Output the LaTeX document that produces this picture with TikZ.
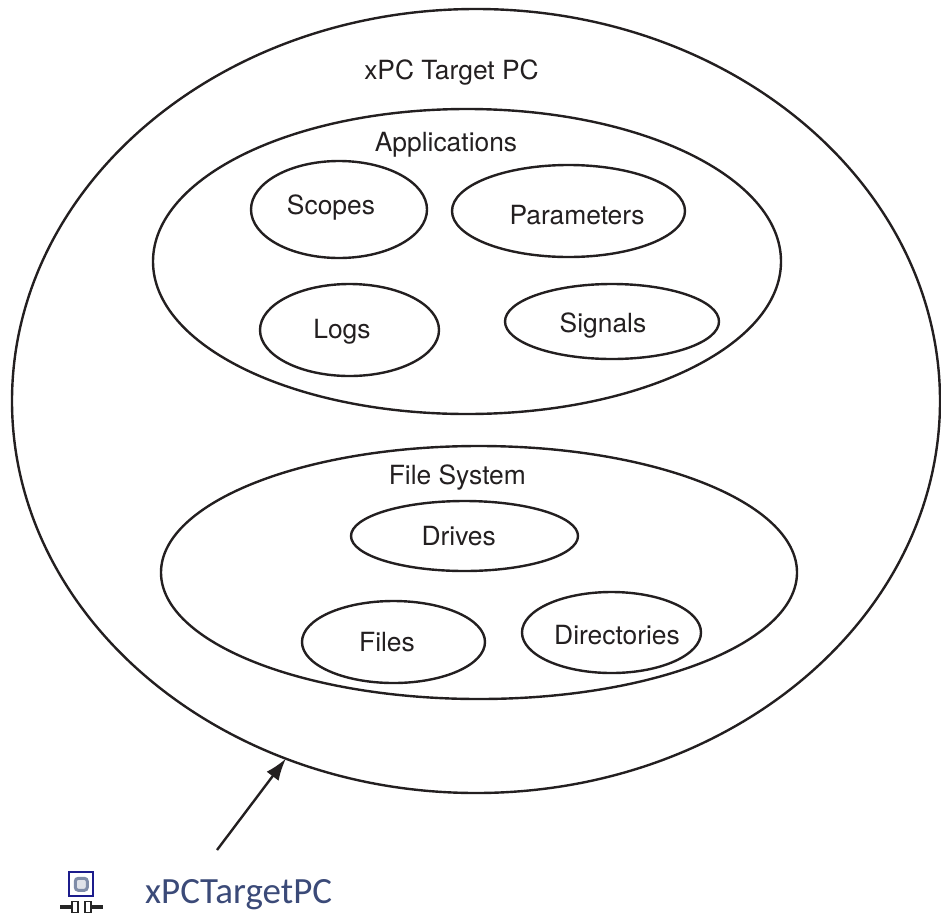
\documentclass[tikz,border=0pt]{standalone}
\usepackage{fontspec}
\setmainfont{TeX Gyre Heros}
\newfontfamily\uifont{Carlito}
\usetikzlibrary{shapes.geometric,arrows.meta}
\definecolor{ink}{HTML}{231F20}
\definecolor{uiblue}{HTML}{3B4A78}
\definecolor{navy}{HTML}{1C1C8C}
\definecolor{ring}{HTML}{7F8CA8}
\tikzset{
  x=1pt,y=-1pt,
  oval/.style={ellipse,draw=ink,line width=2.4pt,inner sep=0pt,outer sep=0pt},
  lbl/.style={font=\fontsize{26.4}{30}\selectfont,text=ink,inner sep=0pt,anchor=base},
  link/.style={draw=ink,line width=2.4pt,-{Latex[length=22pt,width=15pt]}}
}
\begin{document}
\begin{tikzpicture}
\useasboundingbox (0,0) rectangle (941,913);
\node[oval,minimum width=928pt,minimum height=784pt] (outer) at (476,401) {};
\node[oval,minimum width=628pt,minimum height=305pt] (apps) at (467,261.5) {};
\node[oval,minimum width=176pt,minimum height=97pt] (scopes) at (339,209.5) {};
\node[oval,minimum width=233pt,minimum height=92pt] (params) at (568.5,211) {};
\node[oval,minimum width=179pt,minimum height=92pt] (logs) at (349.5,330) {};
\node[oval,minimum width=214pt,minimum height=75pt] (signals) at (612,321.5) {};
\node[oval,minimum width=636pt,minimum height=253pt] (fs) at (479,572.5) {};
\node[oval,minimum width=227pt,minimum height=70pt] (drives) at (464.5,536) {};
\node[oval,minimum width=183pt,minimum height=82pt] (files) at (393.5,642) {};
\node[oval,minimum width=179pt,minimum height=81pt] (dirs) at (611.5,632.5) {};
\node[lbl] (t0) at (451.5,79) {xPC Target PC};
\node[lbl] (t1) at (446,151) {Applications};
\node[lbl] (t2) at (331,214) {Scopes};
\node[lbl] (t3) at (577,224.5) {Parameters};
\node[lbl] (t4) at (342,338.5) {Logs};
\node[lbl] (t5) at (603,332.7) {Signals};
\node[lbl] (t6) at (457.3,484) {File System};
\node[lbl] (t7) at (458.7,545.3) {Drives};
\node[lbl] (t8) at (387,651.7) {Files};
\node[lbl] (t9) at (617,644.3) {Directories};
\coordinate (start) at (217,850);
\draw[link] (start) -- (outer.242.3);
\node[font=\uifont\fontsize{37}{40}\selectfont,text=uiblue,inner sep=0pt,anchor=base west] (name) at (145,903) {xPCTargetPC};
\node[draw=navy,line width=2pt,minimum size=24pt,inner sep=0pt,fill=white] (icon) at (81.3,884.3) {};
\node[draw=ring,line width=3pt,minimum size=12pt,inner sep=0pt,rounded corners=3pt,fill=ring!25] (core) at (icon) {};
\coordinate (pl) at (60,907);
\coordinate (pr) at (103,907);
\draw[line width=3.5pt,black!85] (pl) -- (72,907) (91,907) -- (pr);
\node[draw=black!85,line width=1.8pt,minimum width=6pt,minimum height=11pt,inner sep=0pt,fill=white] (plugl) at (75,907) {};
\node[draw=black!85,line width=1.8pt,minimum width=6pt,minimum height=11pt,inner sep=0pt,fill=white] (plugr) at (88,907) {};
\end{tikzpicture}
\end{document}
